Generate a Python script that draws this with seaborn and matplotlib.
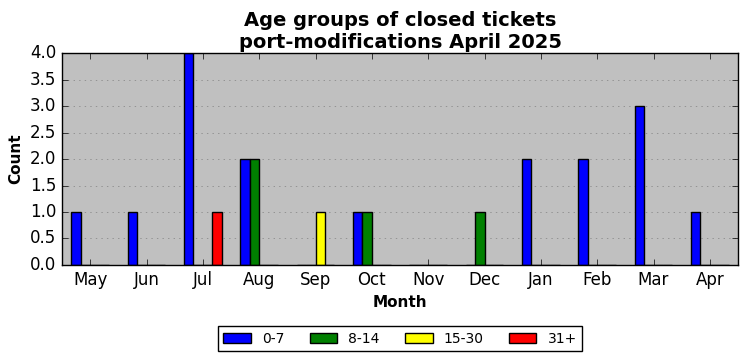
import matplotlib
matplotlib.use("Agg")
import matplotlib.pyplot as plt
import matplotlib.patches as mpatches
import seaborn as sns
import pandas as pd

months = ["May", "Jun", "Jul", "Aug", "Sep", "Oct", "Nov", "Dec", "Jan", "Feb", "Mar", "Apr"]
groups = ["0-7", "8-14", "15-30", "31+"]
colors = ["#0000ff", "#008000", "#ffff00", "#ff0000"]
v_0_7 = [1, 1, 4, 2, 0, 1, 0, 0, 2, 2, 3, 1]
v_8_14 = [0, 0, 0, 2, 0, 1, 0, 1, 0, 0, 0, 0]
v_15_30 = [0, 0, 0, 0, 1, 0, 0, 0, 0, 0, 0, 0]
v_31 = [0, 0, 1, 0, 0, 0, 0, 0, 0, 0, 0, 0]

series = [v_0_7, v_8_14, v_15_30, v_31]
rows = []
for g, vals in zip(groups, series):
    for m, v in zip(months, vals):
        rows.append({"Month": m, "Count": v, "Age": g})
df = pd.DataFrame(rows)

plt.style.use("classic")
fig = plt.figure(figsize=(7.47, 3.61), dpi=100, facecolor="white")
ax = fig.add_axes([0.083, 0.266, 0.905, 0.587])
ax.set_facecolor("#c0c0c0")

sns.barplot(data=df, x="Month", y="Count", hue="Age", order=months, hue_order=groups,
            palette=colors, width=0.667, edgecolor="black", linewidth=1,
            saturation=1, ax=ax, legend=False)

ax.set_xlim(-0.5, 11.5)
ax.set_ylim(0, 4)
ax.set_yticks([i * 0.5 for i in range(9)])
ax.yaxis.grid(True, linestyle=":", color="#808080")
ax.xaxis.grid(False)
ax.set_axisbelow(True)
ax.set_xlabel("Month", fontsize=11, fontweight="bold")
ax.set_ylabel("Count", fontsize=11, fontweight="bold")
ax.tick_params(labelsize=12)
ax.set_title("Age groups of closed tickets\nport-modifications April 2025",
             fontsize=14, fontweight="bold", y=0.99)

handles = [mpatches.Patch(facecolor=c, edgecolor="black", label=g) for c, g in zip(colors, groups)]
ax.legend(handles=handles, loc="upper center", bbox_to_anchor=(0.5, -0.255), ncol=4,
          fontsize=10, frameon=True, fancybox=False, columnspacing=1.8)

fig.savefig("out.png", dpi=100, facecolor="white")
